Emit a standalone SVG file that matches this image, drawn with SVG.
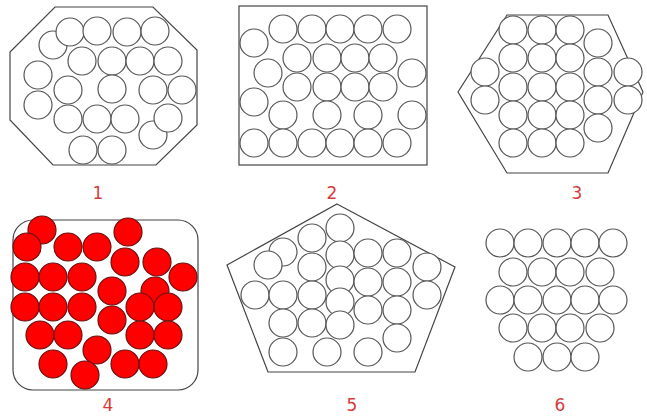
<svg xmlns="http://www.w3.org/2000/svg" width="647" height="418" viewBox="0 0 647 418">
<style>
.s{fill:none;stroke:#444;stroke-width:1.2}
.c{fill:#fff;stroke:#555;stroke-width:1.2}
.r{fill:#ff0000;stroke:#6a1010;stroke-width:1.2}
.l{font-family:"DejaVu Sans",sans-serif;font-size:17px;fill:#d83a3a;text-anchor:middle}
</style>
<defs>
<circle id="w" r="14" class="c"/>
<circle id="d" r="14" class="r"/>
</defs>
<rect width="647" height="418" fill="#fff"/>
<g id="panel1">
<polygon class="s" points="55,7 153,7 197,50 197,125 156,165 53,165 10,120 10,52"/>
<use href="#w" x="53" y="45"/><use href="#w" x="70" y="32"/><use href="#w" x="97" y="31"/><use href="#w" x="127" y="32"/><use href="#w" x="155" y="31"/>
<use href="#w" x="82" y="61"/><use href="#w" x="112" y="61"/><use href="#w" x="140" y="61"/><use href="#w" x="168" y="61"/>
<use href="#w" x="38" y="75"/><use href="#w" x="38" y="105"/>
<use href="#w" x="68" y="90"/><use href="#w" x="112" y="89"/><use href="#w" x="153" y="90"/><use href="#w" x="182" y="90"/>
<use href="#w" x="68" y="119"/><use href="#w" x="97" y="119"/><use href="#w" x="125" y="119"/><use href="#w" x="153" y="135"/><use href="#w" x="168" y="118"/>
<use href="#w" x="83" y="150"/><use href="#w" x="112" y="150"/>
<text class="l" x="98" y="199">1</text>
</g>
<g id="panel2">
<rect class="s" x="239" y="6" width="188" height="159"/>
<use href="#w" x="254" y="43"/>
<use href="#w" x="283" y="29"/><use href="#w" x="312" y="29"/><use href="#w" x="340" y="29"/><use href="#w" x="368" y="29"/><use href="#w" x="397" y="29"/>
<use href="#w" x="297" y="58"/><use href="#w" x="327" y="58"/><use href="#w" x="355" y="58"/><use href="#w" x="383" y="58"/>
<use href="#w" x="268" y="73"/><use href="#w" x="412" y="73"/>
<use href="#w" x="297" y="87"/><use href="#w" x="327" y="87"/><use href="#w" x="355" y="87"/><use href="#w" x="383" y="87"/>
<use href="#w" x="254" y="102"/>
<use href="#w" x="283" y="115"/><use href="#w" x="327" y="115"/><use href="#w" x="368" y="115"/><use href="#w" x="412" y="115"/>
<use href="#w" x="254" y="143"/><use href="#w" x="283" y="143"/><use href="#w" x="312" y="143"/><use href="#w" x="340" y="143"/><use href="#w" x="368" y="143"/><use href="#w" x="397" y="143"/>
<text class="l" x="332" y="199">2</text>
</g>
<g id="panel3">
<polygon class="s" points="507,15 608,15 643,92 608,173 507,173 458,92"/>
<use href="#w" x="513" y="30"/><use href="#w" x="542" y="30"/><use href="#w" x="570" y="30"/>
<use href="#w" x="513" y="58"/><use href="#w" x="542" y="58"/><use href="#w" x="570" y="58"/>
<use href="#w" x="513" y="87"/><use href="#w" x="542" y="87"/><use href="#w" x="570" y="87"/>
<use href="#w" x="513" y="115"/><use href="#w" x="542" y="115"/><use href="#w" x="570" y="115"/>
<use href="#w" x="513" y="143"/><use href="#w" x="542" y="143"/><use href="#w" x="570" y="143"/>
<use href="#w" x="485" y="72"/><use href="#w" x="485" y="100"/>
<use href="#w" x="598" y="43"/><use href="#w" x="598" y="72"/><use href="#w" x="598" y="100"/><use href="#w" x="598" y="128"/>
<use href="#w" x="628" y="72"/><use href="#w" x="628" y="100"/>
<text class="l" x="577" y="199">3</text>
</g>
<g id="panel4">
<rect class="s" x="13" y="220" width="185" height="170" rx="20"/>
<use href="#d" x="42" y="230"/><use href="#d" x="27" y="247"/><use href="#d" x="68" y="247"/><use href="#d" x="97" y="247"/><use href="#d" x="128" y="232"/>
<use href="#d" x="125" y="262"/><use href="#d" x="157" y="262"/><use href="#d" x="183" y="277"/>
<use href="#d" x="25" y="277"/><use href="#d" x="53" y="277"/><use href="#d" x="82" y="277"/>
<use href="#d" x="112" y="291"/><use href="#d" x="155" y="291"/>
<use href="#d" x="25" y="307"/><use href="#d" x="53" y="307"/><use href="#d" x="82" y="307"/><use href="#d" x="140" y="307"/><use href="#d" x="168" y="307"/>
<use href="#d" x="112" y="320"/>
<use href="#d" x="40" y="335"/><use href="#d" x="68" y="335"/><use href="#d" x="140" y="335"/><use href="#d" x="168" y="335"/>
<use href="#d" x="97" y="350"/>
<use href="#d" x="53" y="364"/><use href="#d" x="85" y="375"/><use href="#d" x="125" y="364"/><use href="#d" x="153" y="364"/>
<text class="l" x="108" y="411">4</text>
</g>
<g id="panel5">
<polygon class="s" points="337,204 455,267 415,372 268,372 227,265"/>
<use href="#w" x="340" y="228"/><use href="#w" x="312" y="238"/><use href="#w" x="283" y="252"/><use href="#w" x="268" y="265"/>
<use href="#w" x="340" y="255"/><use href="#w" x="368" y="253"/><use href="#w" x="397" y="253"/><use href="#w" x="427" y="267"/>
<use href="#w" x="312" y="267"/><use href="#w" x="340" y="280"/><use href="#w" x="368" y="282"/><use href="#w" x="397" y="282"/><use href="#w" x="427" y="295"/>
<use href="#w" x="255" y="295"/><use href="#w" x="283" y="295"/><use href="#w" x="312" y="295"/><use href="#w" x="340" y="302"/>
<use href="#w" x="368" y="310"/><use href="#w" x="397" y="310"/>
<use href="#w" x="283" y="323"/><use href="#w" x="312" y="323"/><use href="#w" x="340" y="325"/><use href="#w" x="397" y="338"/>
<use href="#w" x="283" y="352"/><use href="#w" x="327" y="352"/><use href="#w" x="368" y="352"/>
<text class="l" x="352" y="411">5</text>
</g>
<g id="panel6">
<use href="#w" x="500" y="243"/><use href="#w" x="528" y="243"/><use href="#w" x="557" y="243"/><use href="#w" x="585" y="243"/><use href="#w" x="613" y="243"/>
<use href="#w" x="513" y="272"/><use href="#w" x="542" y="272"/><use href="#w" x="570" y="272"/><use href="#w" x="600" y="272"/>
<use href="#w" x="500" y="300"/><use href="#w" x="528" y="300"/><use href="#w" x="557" y="300"/><use href="#w" x="585" y="300"/><use href="#w" x="613" y="300"/>
<use href="#w" x="513" y="328"/><use href="#w" x="542" y="328"/><use href="#w" x="570" y="328"/><use href="#w" x="600" y="328"/>
<use href="#w" x="528" y="357"/><use href="#w" x="557" y="357"/><use href="#w" x="585" y="357"/>
<text class="l" x="560" y="411">6</text>
</g>
</svg>
